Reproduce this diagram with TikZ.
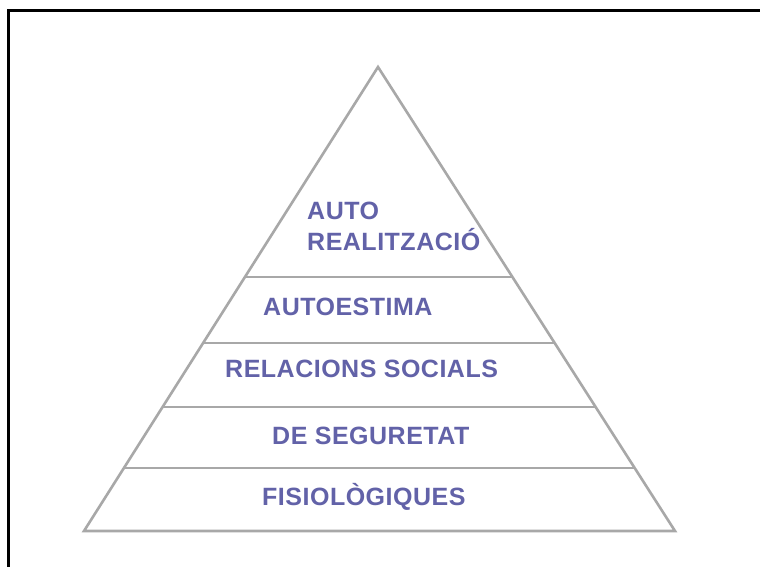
\documentclass[tikz,border=0pt]{standalone}
\usepackage{fontspec}
\setmainfont{Liberation Sans}
\newfontfamily\labelfont[LetterSpace=2]{Liberation Sans}
\usetikzlibrary{calc}
\definecolor{tiergray}{RGB}{168,168,168}
\definecolor{labelblue}{RGB}{98,98,168}
\tikzset{
  tier/.style={draw=tiergray, line width=2.6pt, line join=miter},
  tierline/.style={draw=tiergray, line width=2.6pt},
  label/.style={anchor=west, inner sep=0pt, text=labelblue, font=\labelfont\fontsize{25}{31}\selectfont\bfseries, align=left},
  frame/.style={draw=black, line width=3pt}
}
\begin{document}
\begin{tikzpicture}[x=1pt,y=-1pt]
\clip (0,0) rectangle (760,567);
\fill[white] (0,0) rectangle (760,567);
\draw[frame] (8,580) -- (8,11) -- (780,11);
\coordinate (A) at (378,67);
\coordinate (L) at (84,531);
\coordinate (R) at (675,531);
\draw[tier] (A) -- (L) -- (R) -- cycle;
\foreach \t in {0.4526,0.5948,0.7328,0.8642}{
  \draw[tierline] ($(A)!\t!(L)$) -- ($(A)!\t!(R)$);
}
\node[label] (auto) at (307,226) {AUTO\\REALITZACIÓ};
\node[label] (estima) at (263,307) {AUTOESTIMA};
\node[label] (social) at (225,369) {RELACIONS SOCIALS};
\node[label] (seg) at (272,436) {DE SEGURETAT};
\node[label] (fisio) at (262,497) {FISIOLÒGIQUES};
\end{tikzpicture}
\end{document}
